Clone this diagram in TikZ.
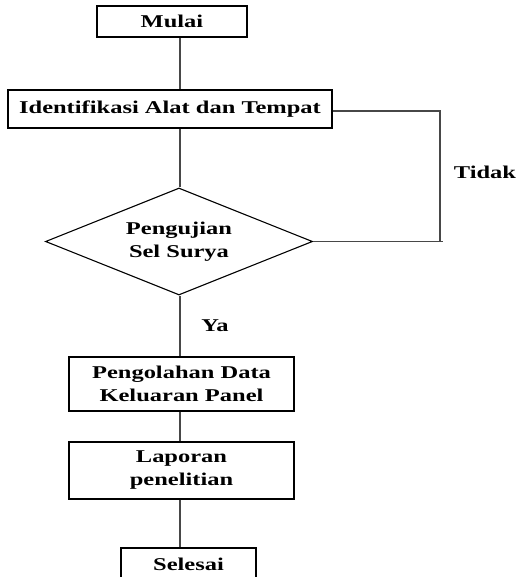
\documentclass[tikz,border=0pt]{standalone}
\usepackage{fontspec}
\setmainfont{Liberation Serif}[FakeStretch=1.36]
\usetikzlibrary{shapes.geometric}
\tikzset{
  txt/.style={font=\fontsize{18}{23}\selectfont\bfseries},
  box/.style={txt, draw=black, line width=1.1pt, inner sep=0pt, align=center},
  decision/.style={txt, diamond, draw=black, line width=1.1pt, inner sep=0pt, aspect=2.5, align=center},
  link/.style={draw=black!72, line width=1.2pt},
  lbl/.style={txt, inner sep=0pt},
}
\begin{document}
\begin{tikzpicture}[x=1pt,y=-1pt]
\useasboundingbox (0,0) rectangle (527,577);
\fill[white] (0,0) rectangle (527,577);
\clip (0,0) rectangle (527,577);
% nodes
\node[box, minimum width=150pt, minimum height=31pt] (mulai) at (172,21.5) {Mulai};
\node[box, minimum width=324pt, minimum height=38pt] (ident) at (170,109) {Identifikasi Alat dan Tempat};
\node[decision, minimum width=267pt, minimum height=107pt] (uji) at (179,241.5) {Pengujian\\Sel Surya};
\node[box, minimum width=225pt, minimum height=54pt] (olah) at (181.5,384) {Pengolahan Data\\Keluaran Panel};
\node[box, minimum width=225pt, minimum height=57pt] (lapor) at (181.5,470.5) {Laporan\\penelitian};
\node[box, minimum width=135pt, minimum height=32pt] (selesai) at (188.5,564) {Selesai};
\node[lbl] (ya) at (215,326) {Ya};
\node[lbl] (tidak) at (485,172) {Tidak};
% helper coordinates
\coordinate (lx) at (180,0);
\coordinate (cr) at (440,0);
\coordinate (cend) at (443,0);
% connectors
\draw[link] (mulai.south -| lx) -- (ident.north -| lx);
\draw[link] (ident.south -| lx) -- (uji.north -| lx);
\draw[link] (uji.south -| lx) -- (olah.north -| lx);
\draw[link] (olah.south -| lx) -- (lapor.north -| lx);
\draw[link] (lapor.south -| lx) -- (selesai.north -| lx);
\draw[link] ([yshift=-2pt]ident.east) -| (cr |- uji.east);
\draw[link] (uji.east) -- (uji.east -| cend);
\end{tikzpicture}
\end{document}
